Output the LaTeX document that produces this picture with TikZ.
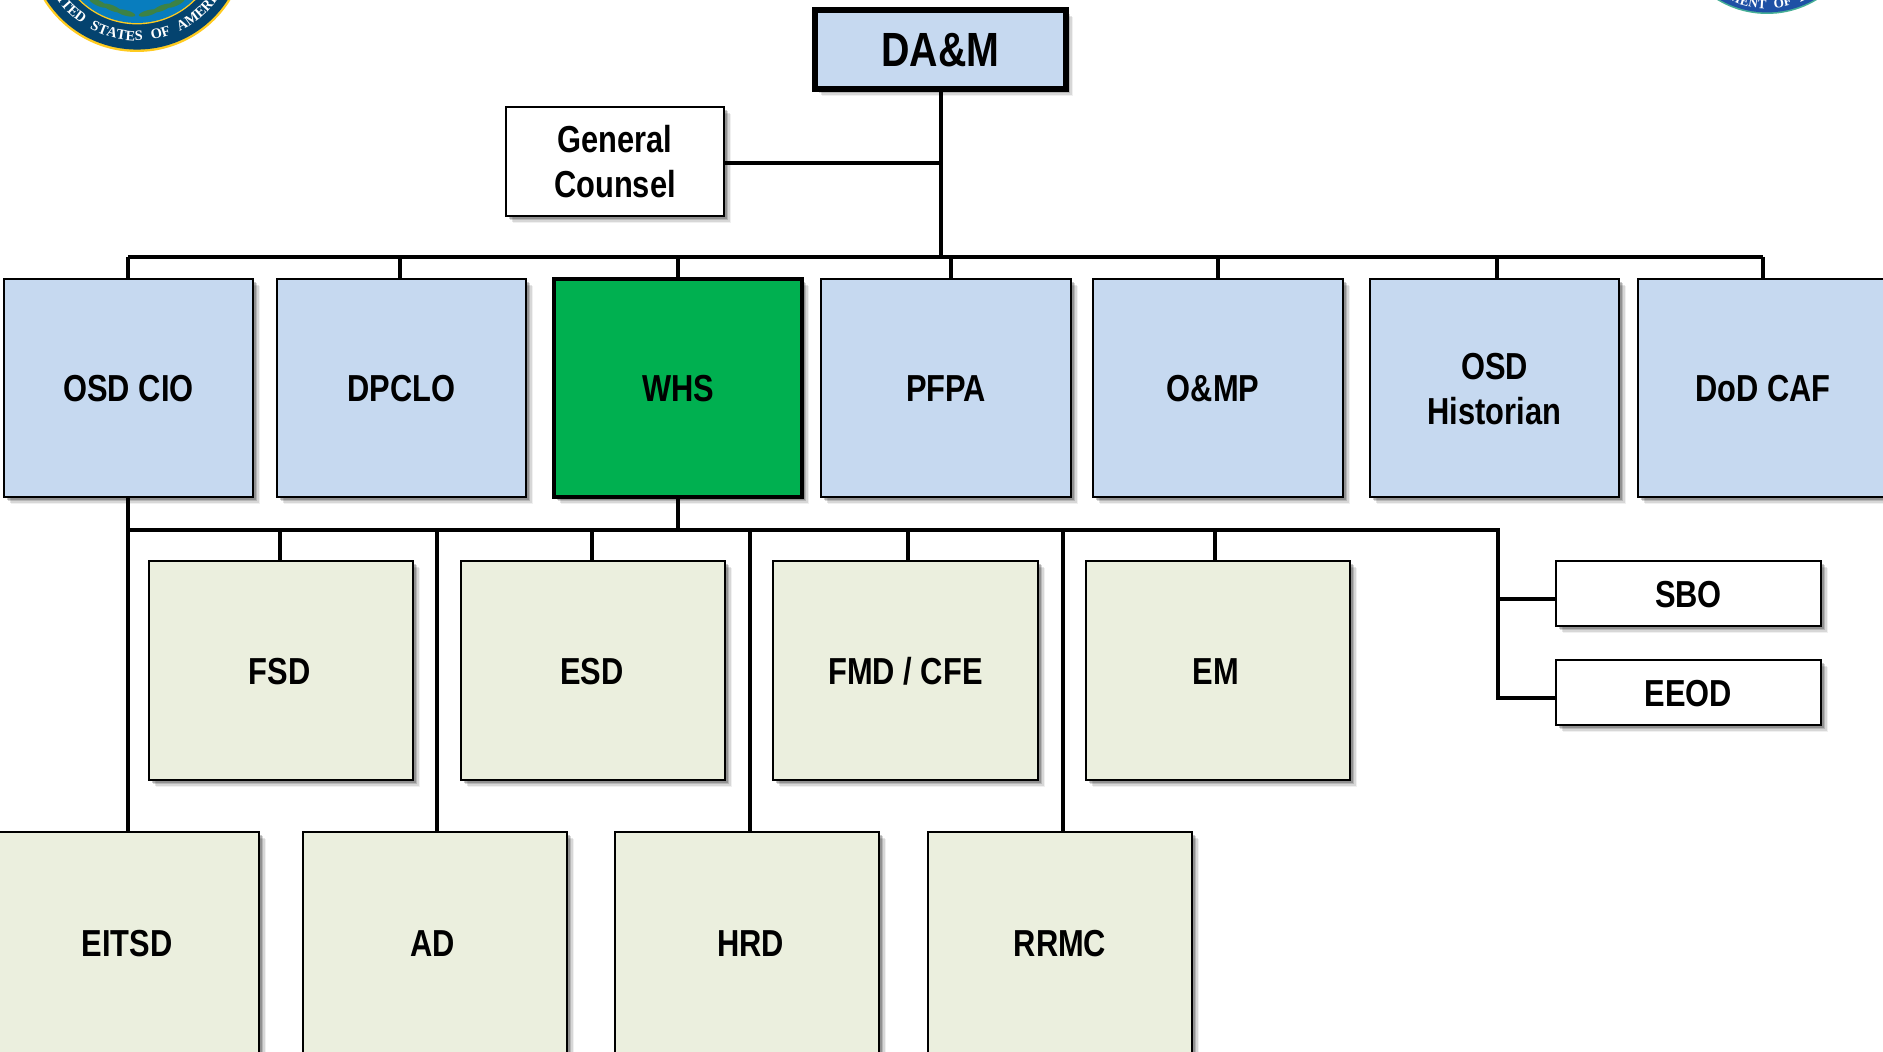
\documentclass[tikz,border=0pt]{standalone}
\usepackage{fontspec}
\setmainfont[FakeStretch=0.82]{Liberation Sans}
\newfontfamily\sealfont[WordSpace=2.5]{Liberation Serif}
\usetikzlibrary{decorations.text}
\definecolor{boxblue}{RGB}{198,217,240}
\definecolor{boxbeige}{RGB}{235,239,222}
\definecolor{boxgreen}{RGB}{0,176,80}
\definecolor{sealnavy}{RGB}{4,67,111}
\definecolor{sealblue}{RGB}{8,125,190}
\definecolor{sealgold}{RGB}{255,203,31}
\definecolor{seal2blue}{RGB}{30,80,165}
\definecolor{seal2rim}{RGB}{70,175,150}
\definecolor{leafgreen}{RGB}{60,130,70}
\tikzset{
  shad/.style={
    preaction={fill=black,fill opacity=0.06,transform canvas={shift={(3.6pt,-3.6pt)}}},
    preaction={fill=black,fill opacity=0.10,transform canvas={shift={(2.9pt,-2.9pt)}}},
    preaction={fill=black,fill opacity=0.15,transform canvas={shift={(2.2pt,-2.2pt)}}},
    preaction={fill=black,fill opacity=0.20,transform canvas={shift={(1.4pt,-1.4pt)}}}},
  base/.style={shad,draw=black,line width=1pt,inner sep=0pt,outer sep=0pt,
    text=black,font=\bfseries\fontsize{18.8}{22.5}\selectfont\def\bxdrop{-6.6pt}},
  blueb/.style={base,fill=boxblue},
  beigeb/.style={base,fill=boxbeige},
  whiteb/.style={base,fill=white},
  greenb/.style={base,fill=boxgreen,line width=2pt},
  topb/.style={base,fill=boxblue,line width=3pt,font=\bfseries\fontsize{24}{27}\selectfont\def\bxdrop{-9.1pt}},
  conn/.style={draw=black,line width=2pt},
}
% name, style, x1, y1, x2, y2, text (pixel coordinates of the reference)
\newcommand{\bx}[7]{%
  \pgfmathsetmacro{\bxcx}{(#3+#5)/2}%
  \pgfmathsetmacro{\bxcy}{(#4+#6)/2}%
  \pgfmathsetmacro{\bxw}{(#5-#3)*0.5}%
  \pgfmathsetmacro{\bxh}{(#6-#4)*0.5}%
  \node[#2,minimum width=\bxw pt,minimum height=\bxh pt] (#1) at (\bxcx,\bxcy)
    {\raisebox{\bxdrop}[0pt][0pt]{\begin{tabular}{@{}c@{}}#7\end{tabular}}};}
\begin{document}
\begin{tikzpicture}[x=0.5pt,y=-0.5pt]
\useasboundingbox (0,0) rectangle (1883,1052);
\clip (0,0) rectangle (1883,1052);
\fill[white] (0,0) rectangle (1883,1052);

% seals (drawn in plain pt coordinates)
\begin{scope}[x=1pt,y=1pt]
  \fill[sealgold] (68.5pt,29pt) circle [radius=55pt];
  \fill[sealnavy] (68.5pt,29pt) circle [radius=53.8pt];
  \fill[sealgold] (68.5pt,29pt) circle [radius=41.2pt];
  \fill[sealblue] (68.5pt,29pt) circle [radius=40.5pt];
  \foreach \lx/\ly/\la in {49/-1.5/-25,56/-4/-22,63/-6.5/-15,74/-6.5/15,81/-4/22,88/-1.5/25}
    \fill[leafgreen] (\lx pt,\ly pt) ellipse [x radius=4.8pt,y radius=1.4pt,rotate=\la];
  \path[decorate,decoration={text along path,text align=center,
      text={|\sealfont\bfseries\fontsize{7.2}{8}\selectfont\color{white}|UNITED STATES OF AMERICA}}]
    (68.5pt,29pt) ++(195:49.4pt) arc [start angle=195,end angle=345,radius=49.4pt];
  \fill[seal2rim] (883.5pt,41pt) circle [radius=48pt];
  \fill[seal2blue] (883.5pt,41pt) circle [radius=47.2pt];
  \path[decorate,decoration={text along path,text align=center,
      text={|\sealfont\bfseries\fontsize{6.6}{7}\selectfont\color{white}|DEPARTMENT OF DEFENSE}}]
    (883.5pt,41pt) ++(220:45.3pt) arc [start angle=220,end angle=320,radius=45.3pt];
\end{scope}

% boxes
\bx{dam}{topb}{815}{10}{1066}{89}{DA\&M}
\bx{gc}{whiteb}{506}{107}{724}{216}{General\\Counsel}
\bx{cio}{blueb}{4}{279}{253}{497}{OSD CIO}
\bx{dpclo}{blueb}{277}{279}{526}{497}{DPCLO}
\bx{whs}{greenb}{554}{279}{802}{497}{WHS}
\bx{pfpa}{blueb}{821}{279}{1071}{497}{PFPA}
\bx{omp}{blueb}{1093}{279}{1343}{497}{\kern-4.8pt O\&MP}
\bx{hist}{blueb}{1370}{279}{1619}{497}{OSD\\Historian}
\bx{caf}{blueb}{1638}{279}{1888}{497}{DoD CAF}
\bx{fsd}{beigeb}{149}{561}{413}{780}{\kern-1.2pt FSD}
\bx{esd}{beigeb}{461}{561}{725}{780}{\kern-1.2pt ESD}
\bx{fmd}{beigeb}{773}{561}{1038}{780}{FMD / CFE}
\bx{em}{beigeb}{1086}{561}{1350}{780}{\kern-2.4pt EM}
\bx{eitsd}{beigeb}{-5}{832}{259}{1054}{EITSD}
\bx{ad}{beigeb}{303}{832}{567}{1054}{\kern-2.4pt AD}
\bx{hrd}{beigeb}{615}{832}{879}{1054}{\kern3.6pt HRD}
\bx{rrmc}{beigeb}{928}{832}{1192}{1054}{RRMC}
\bx{sbo}{whiteb}{1556}{561}{1821}{626}{SBO}
\bx{eeod}{whiteb}{1556}{660}{1821}{725}{EEOD}

% named junctions
\coordinate (busA) at (128,257);
\coordinate (busB) at (1763,257);
\coordinate (trunk) at (941,257);
\coordinate (busC) at (128,530);
\coordinate (busD) at (1498,530);
\foreach \n/\x in {a/128,b/400,c/678,d/951,e/1218,f/1497,g/1763}
  \coordinate (t\n) at (\x,257);
\foreach \n/\x in {a/280,b/592,c/908,d/1215,e/437,f/750,g/1063}
  \coordinate (u\n) at (\x,530);
\coordinate (gcj) at (941,163);
\coordinate (sboj) at (1498,599);
\coordinate (eeodj) at (1498,698);

% connectors
\draw[conn] (trunk |- dam.south) -- (trunk);
\draw[conn] (gc.east |- gcj) -- (gcj);
\draw[conn] (busA) -- (busB);
\draw[conn] (ta) -- (ta |- cio.north);
\draw[conn] (tb) -- (tb |- dpclo.north);
\draw[conn] (tc) -- (tc |- whs.north);
\draw[conn] (td) -- (td |- pfpa.north);
\draw[conn] (te) -- (te |- omp.north);
\draw[conn] (tf) -- (tf |- hist.north);
\draw[conn] (tg) -- (tg |- caf.north);
\draw[conn] (busC) -- (busD) -- (eeodj) -- (eeod.west |- eeodj);
\draw[conn] (sboj) -- (sbo.west |- sboj);
\draw[conn] (whs.south) -- (whs.south |- busC);
\draw[conn] (busC |- cio.south) -- (busC |- eitsd.north);
\draw[conn] (ua) -- (ua |- fsd.north);
\draw[conn] (ub) -- (ub |- esd.north);
\draw[conn] (uc) -- (uc |- fmd.north);
\draw[conn] (ud) -- (ud |- em.north);
\draw[conn] (ue) -- (ue |- ad.north);
\draw[conn] (uf) -- (uf |- hrd.north);
\draw[conn] (ug) -- (ug |- rrmc.north);
\end{tikzpicture}
\end{document}
